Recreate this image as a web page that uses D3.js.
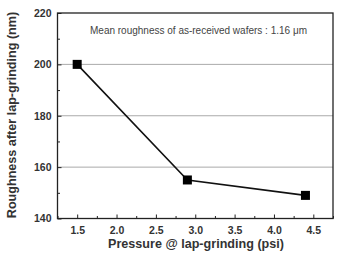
<!DOCTYPE html>
<html><head><meta charset="utf-8">
<script src="https://cdn.jsdelivr.net/npm/d3@7"></script>
<style>body{margin:0;background:#fff;}text{font-family:Arial,"Liberation Sans",sans-serif;}</style>
</head><body>
<svg id="c" width="339" height="255"></svg>
<script>
const pressure = [1.5, 2.9, 4.4];
const roughness = [200, 155, 149];
const xTicks = [1.5, 2.0, 2.5, 3.0, 3.5, 4.0, 4.5];
const yTicks = [140, 160, 180, 200, 220];
const gridValues = [160, 180, 200];
const annotation = "Mean roughness of as-received wafers : 1.16 \u03bcm";
const xTitle = "Pressure @ lap-grinding (psi)";
const yTitle = "Roughness after lap-grinding (nm)";

const svg = d3.select("#c");
const L = 57.5, R = 333, T = 13, B = 218.5;
const x = d3.scaleLinear().domain([1.25, 4.75]).range([L, R]);
const y = d3.scaleLinear().domain([140, 220]).range([B, T]);

// grid
svg.append("g").selectAll("line").data(gridValues).join("line")
  .attr("x1", L).attr("x2", R).attr("y1", d => y(d)).attr("y2", d => y(d))
  .attr("stroke", "#aaa").attr("stroke-width", 1);

// axes with inward ticks
const xAx = svg.append("g").attr("transform", `translate(0,${B})`)
  .call(d3.axisBottom(x).tickValues(xTicks).tickFormat(d3.format(".1f")).tickSizeInner(-4).tickSizeOuter(0).tickPadding(8));
const xMinor = svg.append("g").attr("transform", `translate(0,${B})`)
  .call(d3.axisBottom(x).tickValues(d3.range(1.25, 4.76, 0.5)).tickFormat("").tickSizeInner(-2.5).tickSizeOuter(0));
const yAx = svg.append("g").attr("transform", `translate(${L},0)`)
  .call(d3.axisLeft(y).tickValues(yTicks).tickSizeInner(-4).tickSizeOuter(0).tickPadding(6));
const yMinor = svg.append("g").attr("transform", `translate(${L},0)`)
  .call(d3.axisLeft(y).tickValues([150,170,190,210]).tickFormat("").tickSizeInner(-2.5).tickSizeOuter(0));
[xAx, xMinor, yAx, yMinor].forEach(g => {
  g.select(".domain").remove();
  g.selectAll("line").attr("stroke", "#222").attr("stroke-width", 1);
  g.selectAll("text").attr("font-size", 10.5).attr("font-weight", "bold").attr("fill", "#333")
    .style("font-family", "Arial, 'Liberation Sans', sans-serif");
});

// frame
svg.append("rect").attr("x", L).attr("y", T).attr("width", R - L).attr("height", B - T)
  .attr("fill", "none").attr("stroke", "#222").attr("stroke-width", 1.3);

// line
const pts = pressure.map((p, i) => [p, roughness[i]]);
svg.append("path").datum(pts)
  .attr("d", d3.line().x(d => x(d[0])).y(d => y(d[1])))
  .attr("fill", "none").attr("stroke", "#111").attr("stroke-width", 1.6);
const s = 9;
svg.append("g").selectAll("rect").data(pts).join("rect")
  .attr("x", d => x(d[0]) - s/2).attr("y", d => y(d[1]) - s/2)
  .attr("width", s).attr("height", s).attr("fill", "#000");

// annotation
svg.append("text").attr("x", 90).attr("y", 33.5).attr("font-size", 10).attr("fill", "#444")
  .text(annotation);

// titles
svg.append("text").attr("x", 196).attr("y", 248).attr("text-anchor", "middle")
  .attr("font-size", 12.6).attr("font-weight", "bold").attr("fill", "#333").text(xTitle);
svg.append("text").attr("transform", `translate(16,115) rotate(-90)`)
  .attr("text-anchor", "middle").attr("font-size", 12.6).attr("font-weight", "bold").attr("fill", "#333").text(yTitle);
</script>
</body></html>
